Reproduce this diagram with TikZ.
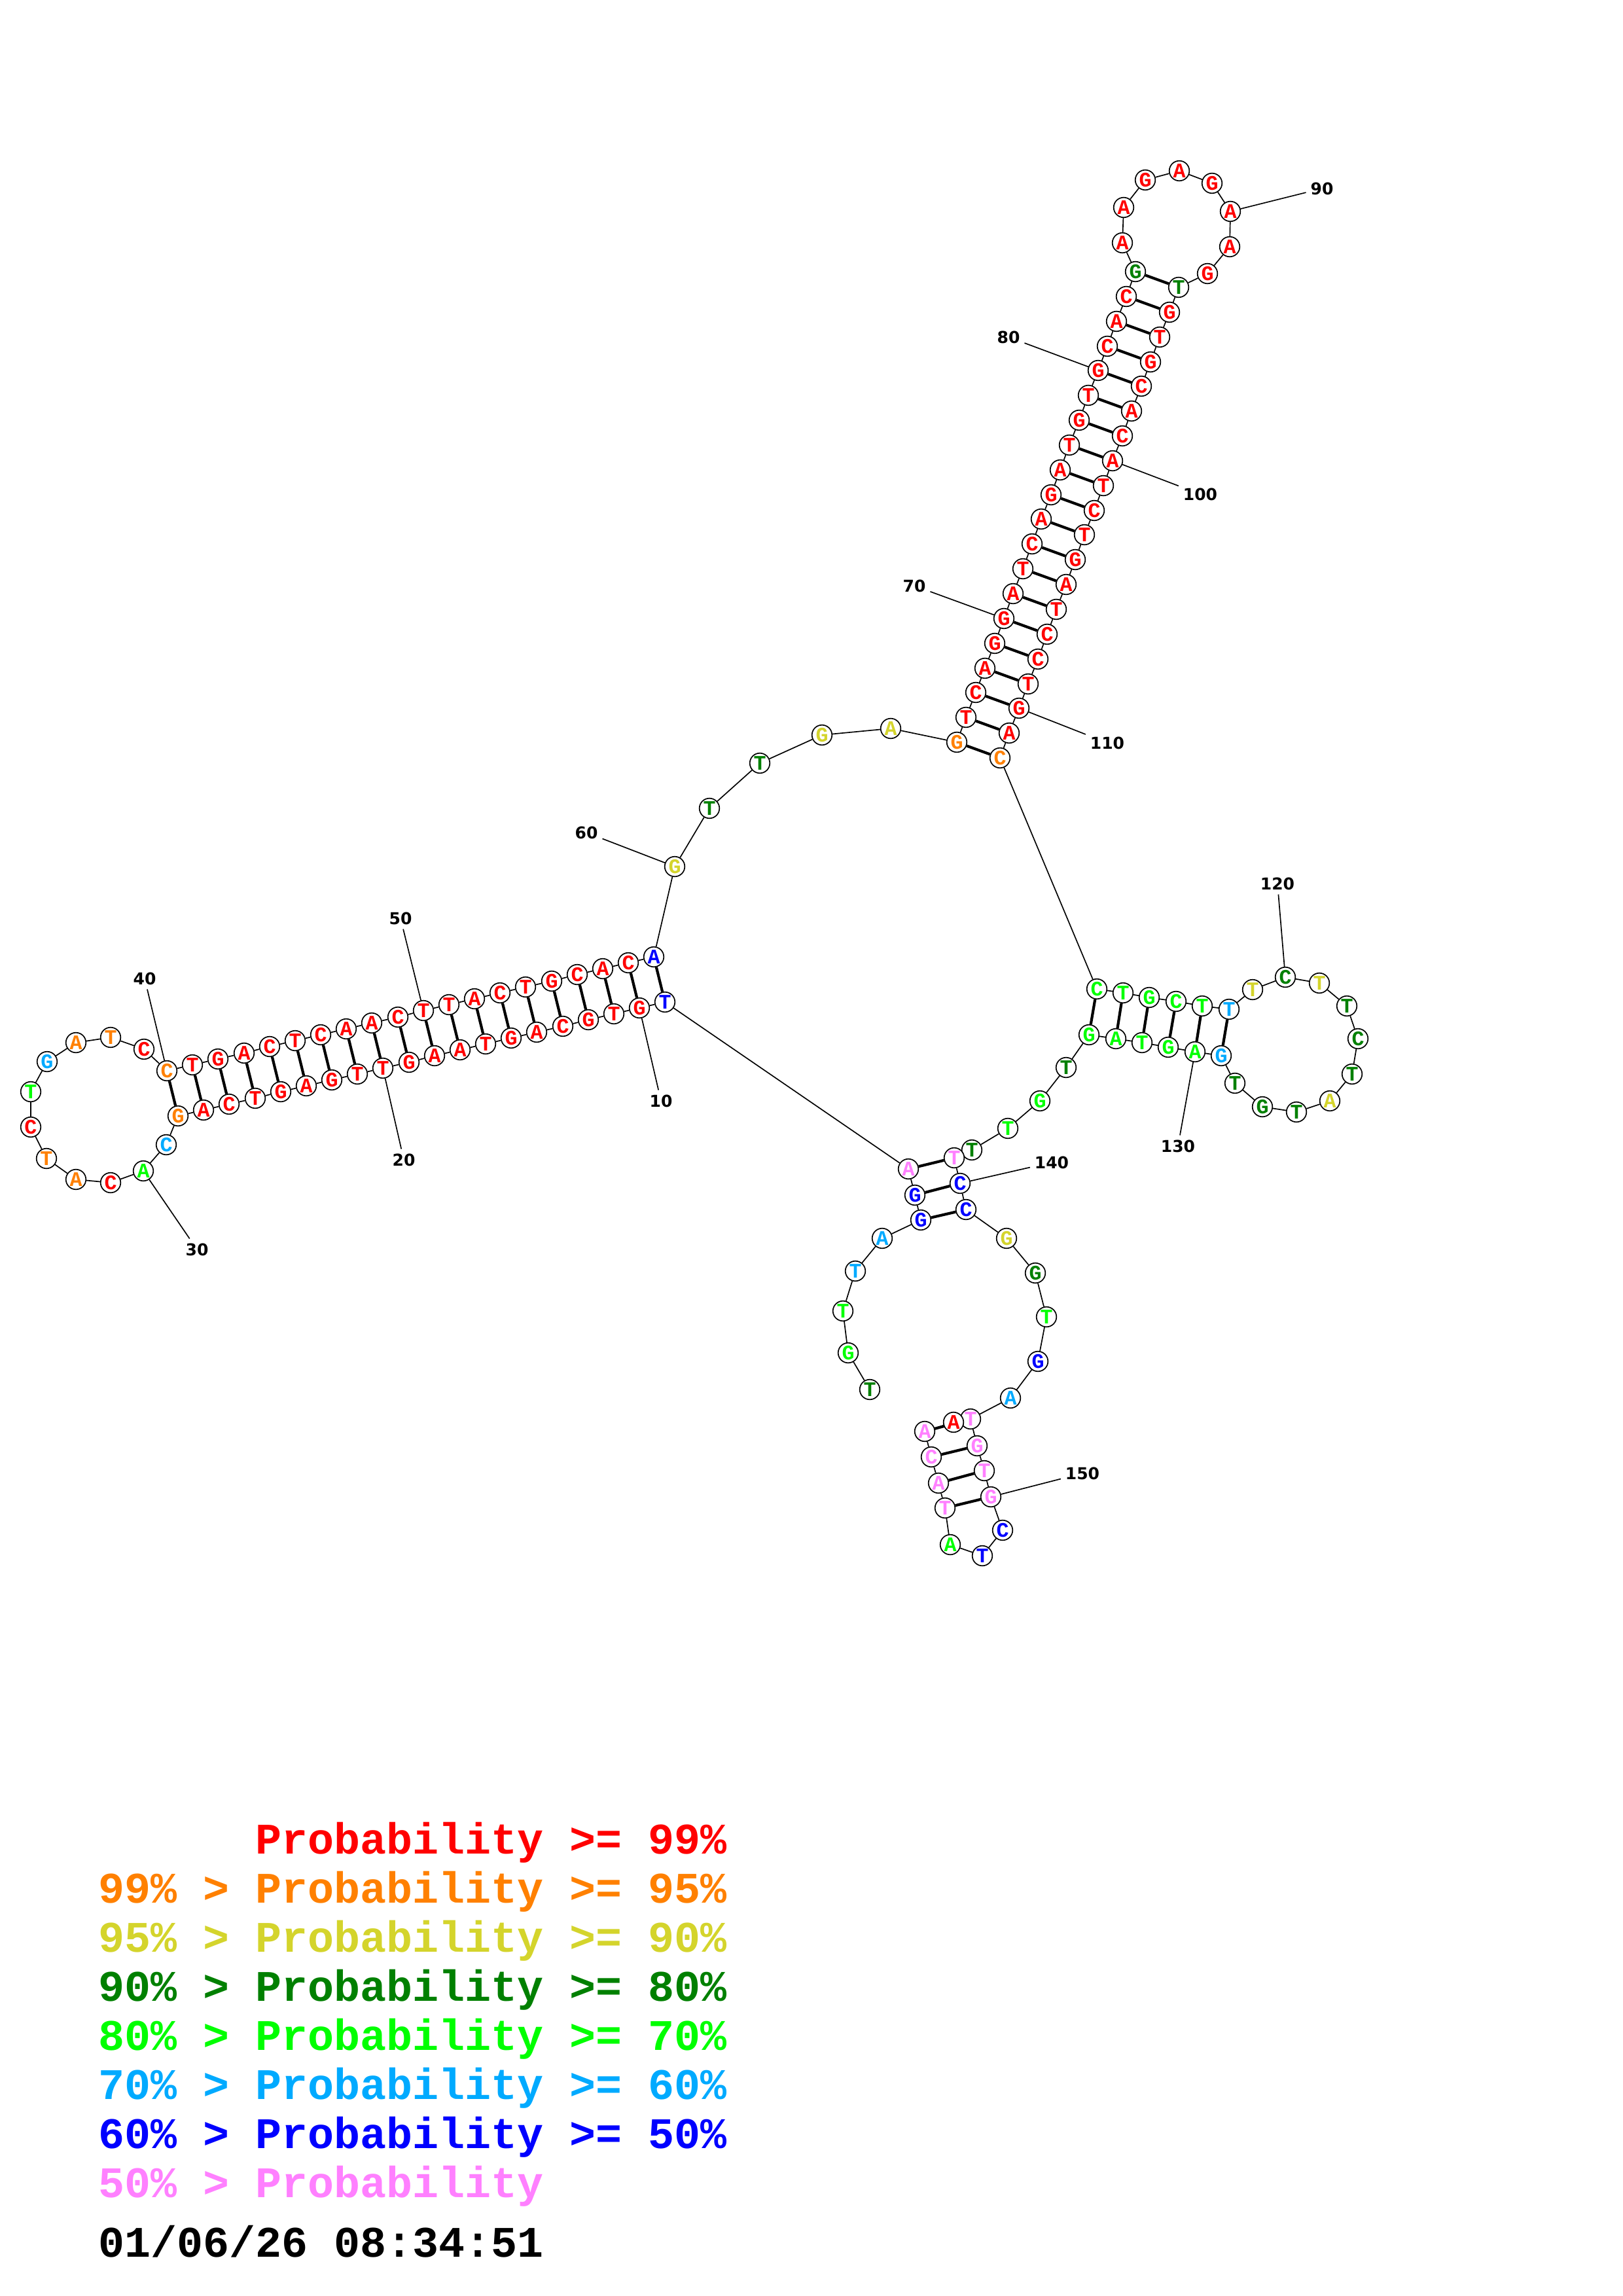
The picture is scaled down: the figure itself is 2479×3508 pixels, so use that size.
\documentclass[tikz,border=0pt]{standalone}
\usepackage{fontspec}
\newfontfamily\monof{Liberation Mono}
\newfontfamily\numf{DejaVu Sans}
\definecolor{cR}{HTML}{FF0000}
\definecolor{cO}{HTML}{FF8000}
\definecolor{cY}{HTML}{D4D42C}
\definecolor{cDG}{HTML}{008000}
\definecolor{cG}{HTML}{00FF00}
\definecolor{cLB}{HTML}{00AAFF}
\definecolor{cB}{HTML}{0000FF}
\definecolor{cP}{HTML}{FF80FF}
\pgfdeclarelayer{background}
\pgfsetlayers{background,main}
\begin{document}
\begin{tikzpicture}[x=0.24pt,y=-0.24pt,
  nt/.style={circle,draw,fill=white,line width=0.4pt,minimum size=7.34pt,inner sep=0pt,
    font=\monof\bfseries\fontsize{7.6}{8}\selectfont},
  bb/.style={line width=0.4pt},
  bp/.style={line width=1pt},
  num/.style={inner sep=1.5pt,font=\numf\bfseries\fontsize{6}{7}\selectfont},
  leg/.style={anchor=base west,inner sep=0pt,font=\monof\bfseries\fontsize{16}{18}\selectfont}]
\useasboundingbox (0,0) rectangle (2479,3508);
% nucleotides
\foreach \idx/\px/\py/\col/\ltr in {
1/1329/2123/cDG/T, 2/1296/2067/cG/G, 3/1288/2003/cG/T, 4/1307/1942/cLB/T, 5/1348/1892/cLB/A,
6/1407/1864/cB/G, 7/1398/1826/cB/G, 8/1388/1786/cP/A, 9/1016/1531/cB/T, 10/977/1540/cR/G,
11/938/1549/cR/T, 12/899/1558/cR/G, 13/860/1568/cR/C, 14/820/1577/cR/A, 15/781/1586/cR/G,
16/742/1595/cR/T, 17/703/1604/cR/A, 18/664/1613/cR/A, 19/625/1623/cR/G, 20/585/1632/cR/T,
21/546/1641/cR/T, 22/507/1650/cR/G, 23/468/1659/cR/A, 24/429/1668/cR/G, 25/390/1678/cR/T,
26/350/1687/cR/C, 27/311/1696/cR/A, 28/272/1705/cO/G, 29/254/1749/cLB/C, 30/219/1789/cG/A,
31/169/1807/cR/C, 32/116/1802/cO/A, 33/71/1770/cO/T, 34/47/1722/cR/C, 35/47/1668/cG/T,
36/72/1622/cLB/G, 37/116/1593/cO/A, 38/169/1585/cO/T, 39/220/1603/cR/C, 40/255/1636/cO/C,
41/294/1627/cR/T, 42/333/1618/cR/G, 43/373/1609/cR/A, 44/412/1599/cR/C, 45/451/1590/cR/T,
46/490/1581/cR/C, 47/529/1572/cR/A, 48/568/1563/cR/A, 49/608/1554/cR/C, 50/647/1544/cR/T,
51/686/1535/cR/T, 52/725/1526/cR/A, 53/764/1517/cR/C, 54/803/1508/cR/T, 55/843/1499/cR/G,
56/882/1489/cR/C, 57/921/1480/cR/A, 58/960/1471/cR/C, 59/999/1462/cB/A, 60/1031/1324/cY/G,
61/1084/1235/cDG/T, 62/1161/1166/cDG/T, 63/1256/1123/cY/G, 64/1361/1113/cY/A, 65/1462/1134/cO/G,
66/1476/1096/cR/T, 67/1491/1058/cR/C, 68/1505/1021/cR/A, 69/1520/983/cR/G, 70/1534/945/cR/G,
71/1548/907/cR/A, 72/1563/869/cR/T, 73/1577/831/cR/C, 74/1591/793/cR/A, 75/1606/756/cR/G,
76/1620/718/cR/A, 77/1634/680/cR/T, 78/1649/642/cR/G, 79/1663/604/cR/T, 80/1678/566/cR/G,
81/1692/529/cR/C, 82/1706/491/cR/A, 83/1721/453/cR/C, 84/1735/415/cDG/G, 85/1715/371/cR/A,
86/1717/317/cR/A, 87/1750/275/cR/G, 88/1802/261/cR/A, 89/1852/280/cR/G, 90/1880/323/cR/A,
91/1879/377/cR/A, 92/1845/418/cR/G, 93/1801/439/cDG/T, 94/1787/477/cR/G, 95/1772/515/cR/T,
96/1758/553/cR/G, 97/1744/590/cR/C, 98/1729/628/cR/A, 99/1715/666/cR/C, 100/1700/704/cR/A,
101/1686/742/cR/T, 102/1672/780/cR/C, 103/1657/817/cR/T, 104/1643/855/cR/G, 105/1629/893/cR/A,
106/1614/931/cR/T, 107/1600/969/cR/C, 108/1586/1007/cR/C, 109/1571/1045/cR/T, 110/1557/1082/cR/G,
111/1542/1120/cR/A, 112/1528/1158/cO/C, 113/1676/1511/cG/C, 114/1716/1517/cG/T, 115/1756/1524/cG/G,
116/1797/1530/cG/C, 117/1837/1537/cG/T, 118/1878/1542/cLB/T, 119/1914/1512/cY/T, 120/1964/1493/cDG/C,
121/2016/1502/cY/T, 122/2058/1537/cDG/T, 123/2075/1587/cDG/C, 124/2066/1641/cDG/T, 125/2032/1682/cY/A,
126/1981/1699/cDG/T, 127/1929/1691/cDG/G, 128/1887/1655/cDG/T, 129/1866/1613/cLB/G, 130/1826/1607/cG/A,
131/1785/1600/cG/G, 132/1745/1593/cG/T, 133/1705/1587/cG/A, 134/1664/1581/cG/G, 135/1629/1631/cDG/T,
136/1589/1682/cG/G, 137/1540/1724/cG/T, 138/1485/1757/cDG/T, 139/1458/1769/cP/T, 140/1467/1808/cB/C,
141/1476/1848/cB/C, 142/1538/1892/cY/G, 143/1582/1945/cDG/G, 144/1599/2012/cG/T, 145/1586/2080/cB/G,
146/1544/2136/cLB/A, 147/1483/2168/cP/T, 148/1493/2209/cP/G, 149/1504/2247/cP/T, 150/1514/2287/cP/G,
151/1532/2338/cB/C, 152/1501/2377/cB/T, 153/1452/2360/cG/A, 154/1444/2304/cP/T, 155/1434/2266/cP/A,
156/1423/2226/cP/C, 157/1413/2187/cP/A, 158/1457/2173/cR/A}
  {\node[nt,text=\col] (n\idx) at (\px,\py) {\ltr};}
% number labels
\foreach \idx/\px/\py in {10/1010/1682, 20/617/1772, 30/301/1909, 40/221/1495, 50/612/1403,
  60/896/1272, 70/1397/895, 80/1541/515, 90/2020/288, 100/1834/755, 110/1692/1135,
  120/1952/1350, 130/1800/1751, 140/1607/1776, 150/1654/2251}
  {\node[num] (l\idx) at (\px,\py) {\idx};}
\begin{pgfonlayer}{background}
\foreach \i [evaluate=\i as \j using int(\i+1)] in {1,...,157} {\draw[bb] (n\i) -- (n\j);}
\foreach \i [evaluate=\i as \j using int(68-\i)] in {9,...,28} {\draw[bp] (n\i) -- (n\j);}
\foreach \i [evaluate=\i as \j using int(177-\i)] in {65,...,84} {\draw[bp] (n\i) -- (n\j);}
\foreach \i [evaluate=\i as \j using int(247-\i)] in {113,...,118} {\draw[bp] (n\i) -- (n\j);}
\foreach \i [evaluate=\i as \j using int(147-\i)] in {6,7,8} {\draw[bp] (n\i) -- (n\j);}
\foreach \i [evaluate=\i as \j using int(304-\i)] in {147,...,150} {\draw[bp] (n\i) -- (n\j);}
\foreach \i in {10,20,...,150} {\draw[bb] (n\i) -- (l\i);}
\end{pgfonlayer}
% legend
\node[leg,text=cR] (lg1) at (390,2832) {Probability >= 99\%};
\node[leg,text=cO] (lg2) at (150,2907) {99\% > Probability >= 95\%};
\node[leg,text=cY] (lg3) at (150,2982) {95\% > Probability >= 90\%};
\node[leg,text=cDG] (lg4) at (150,3057) {90\% > Probability >= 80\%};
\node[leg,text=cG] (lg5) at (150,3132) {80\% > Probability >= 70\%};
\node[leg,text=cLB] (lg6) at (150,3207) {70\% > Probability >= 60\%};
\node[leg,text=cB] (lg7) at (150,3282) {60\% > Probability >= 50\%};
\node[leg,text=cP] (lg8) at (150,3357) {50\% > Probability};
\node[leg,text=black] (date) at (150,3448) {01/06/26 08:34:51};
\end{tikzpicture}
\end{document}
